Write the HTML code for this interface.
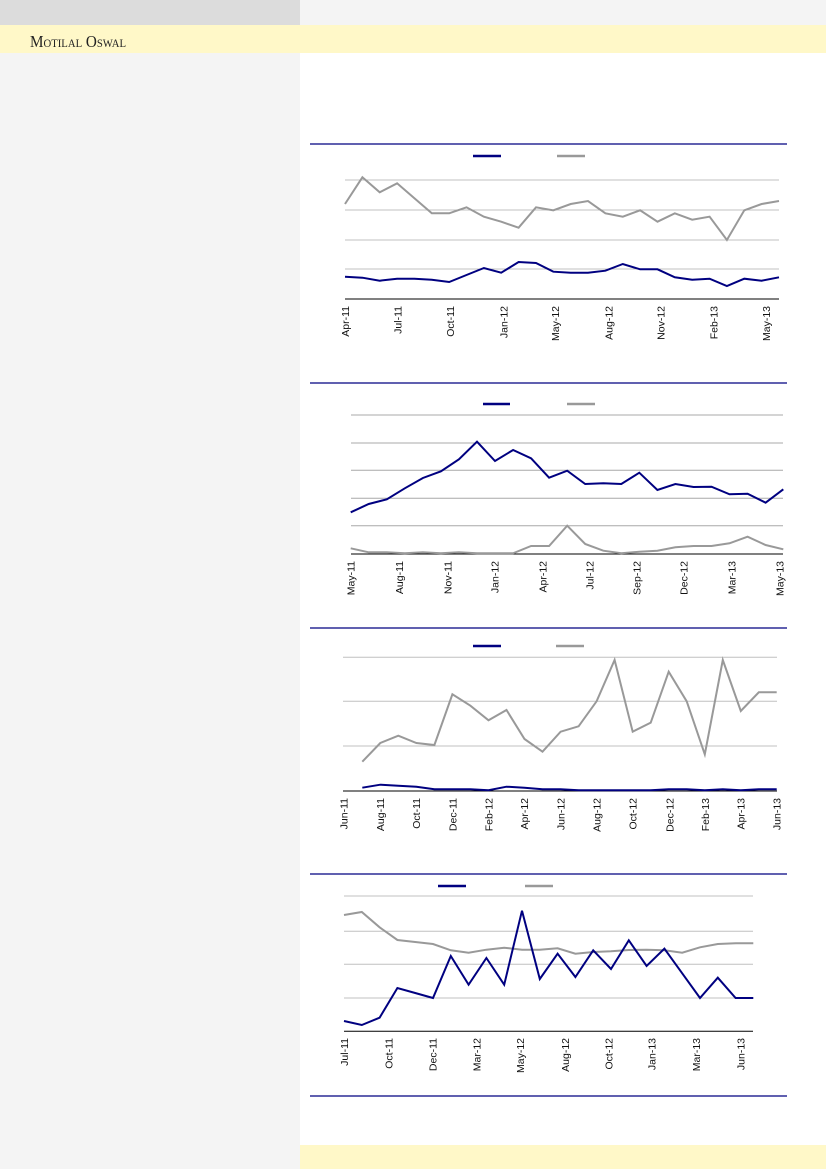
<!DOCTYPE html>
<html><head><meta charset="utf-8"><style>
html,body{margin:0;padding:0;width:826px;height:1169px;overflow:hidden;background:#fff}
svg{display:block}
text{font-family:"Liberation Sans",sans-serif;font-size:10.5px;fill:#111}
</style></head><body>
<svg width="826" height="1169" viewBox="0 0 826 1169" xmlns="http://www.w3.org/2000/svg">
<rect x="0" y="0" width="826" height="1169" fill="#fff"/>
<rect x="0" y="0" width="300" height="25" fill="#dcdcdc"/>
<rect x="300" y="0" width="526" height="25" fill="#f4f4f4"/>
<rect x="0" y="25" width="826" height="28" fill="#fff8c8"/>
<rect x="0" y="53" width="300" height="1116" fill="#f4f4f4"/>
<rect x="300" y="1145" width="526" height="24" fill="#fff8c8"/>
<text x="30" y="47" textLength="96" lengthAdjust="spacingAndGlyphs" style="font-family:'Liberation Serif',serif;font-size:17px;fill:#222;font-variant:small-caps">Motilal Oswal</text>

<g stroke="#000080" stroke-width="1.3">
<line x1="310" y1="144" x2="787" y2="144"/>
<line x1="310" y1="383" x2="787" y2="383"/>
<line x1="310" y1="628" x2="787" y2="628"/>
<line x1="310" y1="874" x2="787" y2="874"/>
<line x1="310" y1="1096" x2="787" y2="1096"/>
</g>

<!-- Chart 1 -->
<g stroke="#c0c0c0" stroke-width="1">
<line x1="345" y1="180" x2="779" y2="180"/><line x1="345" y1="210" x2="779" y2="210"/>
<line x1="345" y1="240" x2="779" y2="240"/><line x1="345" y1="269" x2="779" y2="269"/>
</g>
<line x1="345" y1="299" x2="779" y2="299" stroke="#000" stroke-width="1"/>
<line x1="473" y1="156" x2="501" y2="156" stroke="#000080" stroke-width="2.5"/>
<line x1="557" y1="156" x2="585" y2="156" stroke="#999" stroke-width="2.5"/>
<polyline fill="none" stroke="#999" stroke-width="2" points="345,204 362.4,177.3 379.7,192.3 397.1,183.3 414.4,198.3 431.8,213.3 449.2,213.3 466.5,207.3 483.9,216.7 501.2,221.7 518.6,227.7 536,207.3 553.3,210.3 570.7,204 588,201 605.4,213.3 622.8,216.7 640.1,210.3 657.5,221.7 674.8,213.3 692.2,219.7 709.6,216.7 726.9,240 744.3,210.3 761.6,204 779,201"/>
<polyline fill="none" stroke="#000080" stroke-width="2" points="345,276.7 362.4,277.7 379.7,280.7 397.1,278.7 414.4,278.7 431.8,279.7 449.2,282 466.5,275 483.9,268 501.2,272.7 518.6,262 536,263 553.3,271.7 570.7,272.7 588,272.7 605.4,270.7 622.8,264 640.1,269.3 657.5,269.3 674.8,277.3 692.2,279.7 709.6,278.7 726.9,286 744.3,278.7 761.6,280.7 779,277.3"/>
<g>
<text transform="translate(349,306) rotate(-90)" text-anchor="end">Apr-11</text>
<text transform="translate(401.7,306) rotate(-90)" text-anchor="end">Jul-11</text>
<text transform="translate(454,306) rotate(-90)" text-anchor="end">Oct-11</text>
<text transform="translate(507.3,306) rotate(-90)" text-anchor="end">Jan-12</text>
<text transform="translate(559,306) rotate(-90)" text-anchor="end">May-12</text>
<text transform="translate(612.3,306) rotate(-90)" text-anchor="end">Aug-12</text>
<text transform="translate(664.7,306) rotate(-90)" text-anchor="end">Nov-12</text>
<text transform="translate(717.3,306) rotate(-90)" text-anchor="end">Feb-13</text>
<text transform="translate(770,306) rotate(-90)" text-anchor="end">May-13</text>
</g>

<!-- Chart 2 -->
<g stroke="#a8a8a8" stroke-width="1">
<line x1="351" y1="415" x2="783" y2="415"/><line x1="351" y1="443" x2="783" y2="443"/>
<line x1="351" y1="470.3" x2="783" y2="470.3"/><line x1="351" y1="498.3" x2="783" y2="498.3"/>
<line x1="351" y1="525.7" x2="783" y2="525.7"/>
</g>
<line x1="351" y1="554" x2="783" y2="554" stroke="#000" stroke-width="1"/>
<line x1="483" y1="404" x2="510" y2="404" stroke="#000080" stroke-width="2.5"/>
<line x1="567" y1="404" x2="595" y2="404" stroke="#999" stroke-width="2.5"/>
<polyline fill="none" stroke="#999" stroke-width="2" points="350.7,548.3 368.7,552.3 386.8,552.3 404.8,553.3 422.9,552.3 440.9,553.3 458.9,552.3 477,553.3 495,553.3 513.1,553.3 531.1,546 549.1,546 567.2,525.7 585.2,544 603.3,550.7 621.3,553.3 639.3,551.7 657.4,550.7 675.4,547.3 693.5,546 711.5,546 729.5,543.3 747.6,536.7 765.6,545 783.3,549.3"/>
<polyline fill="none" stroke="#000080" stroke-width="2" points="350.7,512.3 368.7,504 386.8,499.3 404.8,488.3 422.9,478 440.9,471.3 458.9,459.3 477,441.7 495,461 513.1,450 531.1,458.3 549.1,477.7 567.2,470.7 585.2,484 603.3,483.3 621.3,484 639.3,472.7 657.4,490 675.4,484 693.5,487 711.5,486.7 729.5,494.3 747.6,493.7 765.6,502.7 783.3,489.3"/>
<g>
<text transform="translate(354.7,561) rotate(-90)" text-anchor="end">May-11</text>
<text transform="translate(403,561) rotate(-90)" text-anchor="end">Aug-11</text>
<text transform="translate(451.3,561) rotate(-90)" text-anchor="end">Nov-11</text>
<text transform="translate(498.3,561) rotate(-90)" text-anchor="end">Jan-12</text>
<text transform="translate(546.3,561) rotate(-90)" text-anchor="end">Apr-12</text>
<text transform="translate(593.3,561) rotate(-90)" text-anchor="end">Jul-12</text>
<text transform="translate(640.7,561) rotate(-90)" text-anchor="end">Sep-12</text>
<text transform="translate(687.3,561) rotate(-90)" text-anchor="end">Dec-12</text>
<text transform="translate(735.3,561) rotate(-90)" text-anchor="end">Mar-13</text>
<text transform="translate(783.3,561) rotate(-90)" text-anchor="end">May-13</text>
</g>

<!-- Chart 3 -->
<g stroke="#c0c0c0" stroke-width="1">
<line x1="343" y1="657.3" x2="777" y2="657.3"/><line x1="343" y1="701.3" x2="777" y2="701.3"/>
<line x1="343" y1="746" x2="777" y2="746"/>
</g>
<line x1="343" y1="791" x2="777" y2="791" stroke="#000" stroke-width="1"/>
<line x1="473" y1="646" x2="501" y2="646" stroke="#000080" stroke-width="2.5"/>
<line x1="556" y1="646" x2="584" y2="646" stroke="#999" stroke-width="2.5"/>
<polyline fill="none" stroke="#999" stroke-width="2" points="362.3,761.7 380.3,743 398.3,735.7 416.4,743 434.4,745 452.4,694.3 470.4,705.7 488.5,720.3 506.5,710 524.5,739 542.5,751.7 560.6,731.7 578.6,726.3 596.6,701.3 614.6,660 632.7,731.7 650.7,722.7 668.7,671.7 686.7,701.3 704.8,754.3 722.8,660 740.8,711 758.8,692.3 776.7,692.3"/>
<polyline fill="none" stroke="#000080" stroke-width="2" points="362.3,787.7 380.3,784.7 398.3,785.7 416.4,786.7 434.4,789.3 452.4,789.3 470.4,789.3 488.5,790.2 506.5,786.7 524.5,787.7 542.5,789.3 560.6,789.3 578.6,790.2 596.6,790.2 614.6,790.2 632.7,790.2 650.7,790.2 668.7,789.3 686.7,789.3 704.8,790.2 722.8,789.3 740.8,790.2 758.8,789.3 776.7,789.3"/>
<g>
<text transform="translate(347.3,798) rotate(-90)" text-anchor="end">Jun-11</text>
<text transform="translate(384,798) rotate(-90)" text-anchor="end">Aug-11</text>
<text transform="translate(420,798) rotate(-90)" text-anchor="end">Oct-11</text>
<text transform="translate(456.7,798) rotate(-90)" text-anchor="end">Dec-11</text>
<text transform="translate(492.3,798) rotate(-90)" text-anchor="end">Feb-12</text>
<text transform="translate(528,798) rotate(-90)" text-anchor="end">Apr-12</text>
<text transform="translate(564.7,798) rotate(-90)" text-anchor="end">Jun-12</text>
<text transform="translate(600.7,798) rotate(-90)" text-anchor="end">Aug-12</text>
<text transform="translate(636.7,798) rotate(-90)" text-anchor="end">Oct-12</text>
<text transform="translate(673.3,798) rotate(-90)" text-anchor="end">Dec-12</text>
<text transform="translate(709,798) rotate(-90)" text-anchor="end">Feb-13</text>
<text transform="translate(744.7,798) rotate(-90)" text-anchor="end">Apr-13</text>
<text transform="translate(780.7,798) rotate(-90)" text-anchor="end">Jun-13</text>
</g>

<!-- Chart 4 -->
<g stroke="#c0c0c0" stroke-width="1">
<line x1="344" y1="896" x2="753" y2="896"/><line x1="344" y1="931.3" x2="753" y2="931.3"/>
<line x1="344" y1="964.3" x2="753" y2="964.3"/><line x1="344" y1="998" x2="753" y2="998"/>
</g>
<line x1="344" y1="1031.3" x2="753" y2="1031.3" stroke="#000" stroke-width="1"/>
<line x1="438" y1="886" x2="466" y2="886" stroke="#000080" stroke-width="2.5"/>
<line x1="525" y1="886" x2="553" y2="886" stroke="#999" stroke-width="2.5"/>
<polyline fill="none" stroke="#999" stroke-width="2" points="344,915 361.8,912 379.6,927.3 397.4,940 415.2,942 433,944 450.8,950.3 468.6,952.7 486.4,949.7 504.2,947.7 522,949.7 539.8,949.7 557.6,948.3 575.4,953.7 593.2,952 611,951.3 628.8,950 646.6,949.7 664.4,950.3 682.2,952.7 700,947.3 717.8,944 735.6,943.3 753.3,943.3"/>
<polyline fill="none" stroke="#000080" stroke-width="2" points="344,1021 361.8,1025 379.6,1017.7 397.4,988 415.2,993 433,998 450.8,956 468.6,984.7 486.4,958 504.2,984.7 522,910.7 539.8,979 557.6,953.7 575.4,977 593.2,950.3 611,969 628.8,940.3 646.6,966 664.4,948.7 682.2,973.3 700,998 717.8,977.7 735.6,998 753.3,998"/>
<g>
<text transform="translate(348,1038) rotate(-90)" text-anchor="end">Jul-11</text>
<text transform="translate(392.3,1038) rotate(-90)" text-anchor="end">Oct-11</text>
<text transform="translate(436.7,1038) rotate(-90)" text-anchor="end">Dec-11</text>
<text transform="translate(480.7,1038) rotate(-90)" text-anchor="end">Mar-12</text>
<text transform="translate(524,1038) rotate(-90)" text-anchor="end">May-12</text>
<text transform="translate(569,1038) rotate(-90)" text-anchor="end">Aug-12</text>
<text transform="translate(612.3,1038) rotate(-90)" text-anchor="end">Oct-12</text>
<text transform="translate(655.7,1038) rotate(-90)" text-anchor="end">Jan-13</text>
<text transform="translate(700,1038) rotate(-90)" text-anchor="end">Mar-13</text>
<text transform="translate(744.7,1038) rotate(-90)" text-anchor="end">Jun-13</text>
</g>
</svg>
</body></html>
